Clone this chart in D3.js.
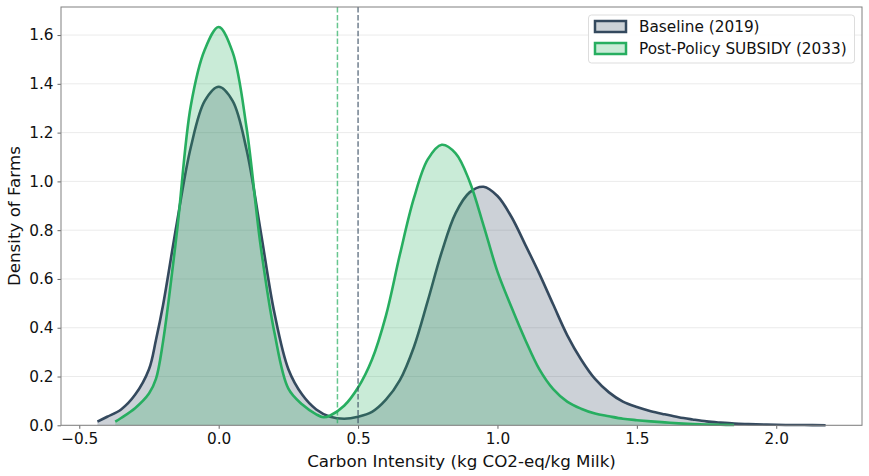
<!DOCTYPE html>
<html>
<head>
<meta charset="utf-8">
<script src="https://cdn.jsdelivr.net/npm/d3@7"></script>
<style>
  html, body { margin: 0; padding: 0; background: #fff; }
  svg { display: block; font-family: "DejaVu Sans", sans-serif; }
</style>
</head>
<body>
<svg id="chart" width="869" height="476"></svg>
<script>
// ---- Data ----
const seriesNames = ["Baseline (2019)", "Post-Policy SUBSIDY (2033)"];
const baselineX = [-0.435,-0.40,-0.35,-0.30,-0.25,-0.225,-0.20,-0.15,-0.10,-0.05,0.00,0.05,0.10,0.15,0.20,0.25,0.30,0.35,0.40,0.45,0.50,0.55,0.60,0.65,0.70,0.75,0.80,0.85,0.90,0.95,1.00,1.05,1.10,1.15,1.20,1.25,1.30,1.35,1.40,1.45,1.50,1.55,1.60,1.65,1.70,1.75,1.80,1.85,1.90,2.00,2.10,2.177];
const baselineY = [0.015,0.035,0.065,0.125,0.23,0.35,0.49,0.83,1.14,1.33,1.388,1.33,1.13,0.80,0.46,0.23,0.125,0.065,0.035,0.027,0.035,0.055,0.105,0.185,0.32,0.51,0.71,0.87,0.955,0.978,0.94,0.855,0.74,0.622,0.495,0.37,0.27,0.19,0.135,0.097,0.075,0.058,0.045,0.033,0.024,0.016,0.011,0.007,0.005,0.002,0.001,0.0005];
const subsidyX = [-0.371,-0.35,-0.30,-0.25,-0.225,-0.20,-0.15,-0.10,-0.05,0.00,0.05,0.10,0.15,0.20,0.25,0.30,0.35,0.376,0.40,0.45,0.50,0.55,0.60,0.65,0.70,0.75,0.80,0.85,0.90,0.95,1.00,1.05,1.10,1.15,1.20,1.25,1.30,1.35,1.40,1.45,1.50,1.55,1.60,1.65,1.70,1.75,1.80,1.849];
const subsidyY = [0.015,0.03,0.07,0.13,0.19,0.34,0.79,1.31,1.54,1.633,1.53,1.22,0.74,0.38,0.15,0.085,0.045,0.033,0.04,0.08,0.155,0.27,0.45,0.70,0.93,1.09,1.15,1.115,1.0,0.82,0.63,0.485,0.35,0.23,0.148,0.097,0.068,0.048,0.037,0.027,0.021,0.016,0.012,0.008,0.005,0.003,0.002,0.001];
const medianLines = [0.500, 0.426]; // baseline, subsidy
const xTicks = [-0.5, 0.0, 0.5, 1.0, 1.5, 2.0];
const yTicks = [0.0, 0.2, 0.4, 0.6, 0.8, 1.0, 1.2, 1.4, 1.6];
const xDomain = [-0.5656, 2.3076];
const yDomain = [0, 1.715];
const colors = ["#34495e", "#27ae60"];
const xLabel = "Carbon Intensity (kg CO2-eq/kg Milk)";
const yLabel = "Density of Farms";

// ---- Layout ----
const svg = d3.select("#chart");
const L = 61, R = 862, T = 7, B = 425.3;
const x = d3.scaleLinear().domain(xDomain).range([L, R]);
const y = d3.scaleLinear().domain(yDomain).range([B, T]);

// grid
svg.append("g").selectAll("line").data(yTicks).join("line")
  .attr("x1", L).attr("x2", R)
  .attr("y1", d => y(d)).attr("y2", d => y(d))
  .attr("stroke", "#ebebeb").attr("stroke-width", 1);

const series = [
  { pts: baselineX.map((v, i) => [v, baselineY[i]]), color: colors[0] },
  { pts: subsidyX.map((v, i) => [v, subsidyY[i]]), color: colors[1] }
];

const curve = d3.curveCatmullRom.alpha(0.5);
const area = d3.area().x(d => x(d[0])).y0(y(0)).y1(d => y(Math.max(0, d[1]))).curve(curve);
const line = d3.line().x(d => x(d[0])).y(d => y(d[1])).curve(curve);

const plot = svg.append("g");
series.forEach(s => {
  plot.append("path").attr("d", area(s.pts)).attr("fill", s.color).attr("fill-opacity", 0.25);
  plot.append("path").attr("d", line(s.pts)).attr("fill", "none")
    .attr("stroke", s.color).attr("stroke-width", 2.6).attr("stroke-linejoin", "round");
});

// median dashed lines
medianLines.forEach((m, i) => {
  plot.append("line").attr("x1", x(m)).attr("x2", x(m)).attr("y1", T).attr("y2", B)
    .attr("stroke", colors[i]).attr("stroke-opacity", 0.7).attr("stroke-width", 1.5)
    .attr("stroke-dasharray", "5.5,2.4");
});

// axes
const xAxis = svg.append("g").attr("transform", `translate(0,${B})`)
  .call(d3.axisBottom(x).tickValues(xTicks).tickFormat(d3.format(".1f")).tickSizeOuter(0).tickSize(3.5).tickPadding(4));
const yAxis = svg.append("g").attr("transform", `translate(${L},0)`)
  .call(d3.axisLeft(y).tickValues(yTicks).tickFormat(d3.format(".1f")).tickSizeOuter(0).tickSize(3.5).tickPadding(4));
[xAxis, yAxis].forEach(a => {
  a.select(".domain").remove();
  a.selectAll(".tick line").attr("stroke", "#666");
  a.selectAll(".tick text").attr("fill", "#111").style("font-size", "15.3px").style("font-family", "DejaVu Sans");
});
xAxis.selectAll(".tick text").text(d => d3.format(".1f")(d).replace("-", "\u2212"));

// spines
svg.append("rect").attr("x", L).attr("y", T).attr("width", R - L).attr("height", B - T)
  .attr("fill", "none").attr("stroke", "#808080").attr("stroke-width", 1);

// labels
svg.append("text").attr("x", (L + R) / 2).attr("y", 467).attr("text-anchor", "middle")
  .style("font-size", "16.7px").attr("fill", "#111").text(xLabel);
svg.append("text").attr("transform", `translate(20,${(T + B) / 2}) rotate(-90)`)
  .attr("text-anchor", "middle").style("font-size", "16.7px").attr("fill", "#111").text(yLabel);

// legend
const lg = svg.append("g");
lg.append("rect").attr("x", 588.5).attr("y", 15).attr("width", 266).attr("height", 48)
  .attr("rx", 3).attr("fill", "#fff").attr("fill-opacity", 0.85).attr("stroke", "#ddd");
seriesNames.forEach((n, i) => {
  const yy = 21 + i * 22;
  lg.append("rect").attr("x", 595).attr("y", yy).attr("width", 31).attr("height", 11)
    .attr("fill", d3.interpolateRgb("#fff", colors[i])(0.25)).attr("stroke", colors[i]).attr("stroke-width", 2.5);
  lg.append("text").attr("x", 639).attr("y", yy + 11).style("font-size", "15.3px").attr("fill", "#111").text(n);
});
</script>
</body>
</html>
